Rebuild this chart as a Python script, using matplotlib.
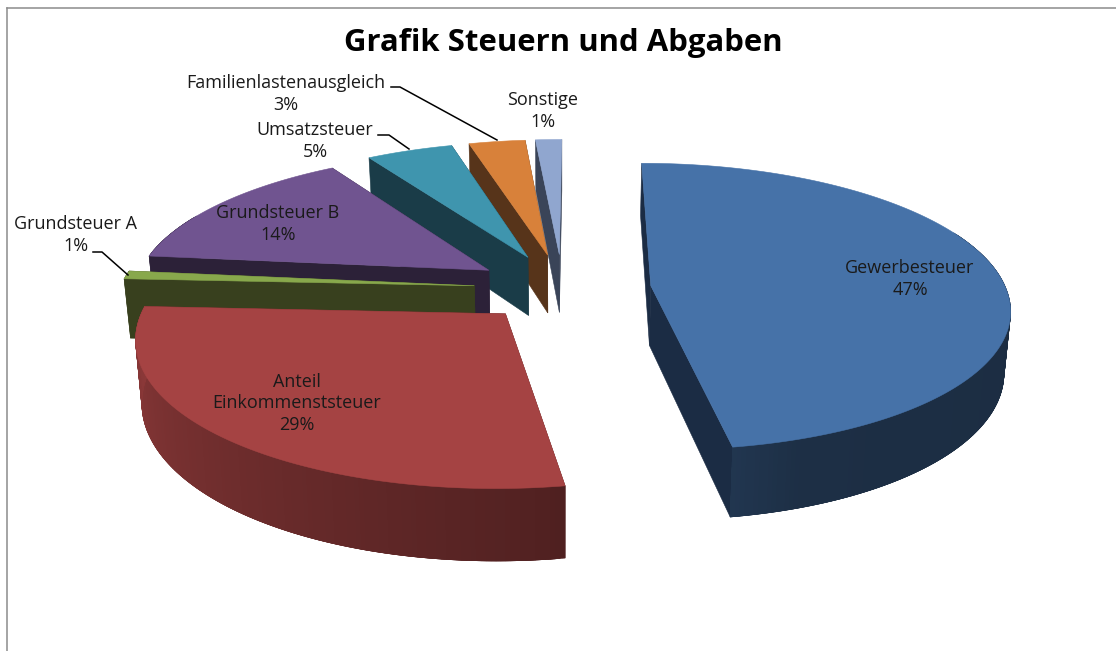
import numpy as np
import matplotlib
matplotlib.use("Agg")
import matplotlib.pyplot as plt
from matplotlib.colors import to_rgb

# --- data ---
categories = ["Gewerbesteuer", "Anteil\nEinkommenststeuer", "Grundsteuer A", "Grundsteuer B",
              "Umsatzsteuer", "Familienlastenausgleich", "Sonstige"]
shares = [47.4, 28.4, 0.9, 14.3, 4.6, 3.0, 1.4]
pct_labels = ["47%", "29%", "1%", "14%", "5%", "3%", "1%"]
top_colors = ["#4672A8", "#A54343", "#88A84C", "#705490", "#3F95AE", "#D8813A", "#90A6CF"]
wall_colors = ["#1B2C44", "#552220", "#38401E", "#2C2138", "#1A3C48", "#57341A", "#3A4458"]
explode = [0.25, 0.235, 0.25, 0.25, 0.25, 0.25, 0.25]
label_xy = [(910, 279), (297, 403.5), (76, 235), (278, 224), (315, 141), (286, 94), (543, 111)]

# --- projection constants (3-D pie seen in perspective) ---
CX, CY = 562.5, 288.5
A, B = 355, 141
K = 0.146
SKEW = 2.5
DEPTH = 60
BOTTOM_SHRINK = 1.015


def project(X, Y, bottom=False):
    X, Y = np.asarray(X, float), np.asarray(Y, float)
    w = 1 + K * Y
    sx = (A * X + SKEW * np.maximum(Y, 0)) / w
    if bottom:
        return CX + sx / BOTTOM_SHRINK, CY - B * Y / w + DEPTH / w
    return CX + sx, CY - B * Y / w


fig = plt.figure(figsize=(11.16, 6.51), dpi=100, facecolor="white")
ax = fig.add_axes([0, 0, 1, 1])
ax.set_xlim(0, 1116)
ax.set_ylim(651, 0)
ax.axis("off")

ax.plot([6.5, 6.5], [7.5, 651], color="#8c8c8c", lw=1.1)
ax.plot([6.5, 1116], [7.5, 7.5], color="#8c8c8c", lw=1.1)

edges = np.radians(np.concatenate([[0], np.cumsum(shares)]) / sum(shares) * 360)


def fill(x, y, color):
    ax.fill(x, y, facecolor=color, edgecolor=color, lw=0.4)


def rim_color(i, theta_deg):
    if theta_deg > 273:
        return wall_colors[i]
    f = np.interp(theta_deg, [90, 160, 175, 275], [0.39, 0.41, 0.5, 0.87])
    return tuple(np.array(to_rgb(top_colors[i])) * f)


for i in range(len(shares) - 1, -1, -1):
    t0, t1 = edges[i], edges[i + 1]
    mid = (t0 + t1) / 2
    X0, Y0 = explode[i] * np.sin(mid), explode[i] * np.cos(mid)
    th = np.linspace(t0, t1, max(int(np.degrees(t1 - t0) * 1.5), 3))
    X, Y = X0 + np.sin(th), Y0 + np.cos(th)
    xt, yt = project(X, Y)
    xb, yb = project(X, Y, bottom=True)
    ax0, ay0 = project(X0, Y0)
    bx0, by0 = project(X0, Y0, bottom=True)

    # radial walls
    for j in (-1, 0):
        fill([ax0, xt[j], xb[j], bx0], [ay0, yt[j], yb[j], by0], wall_colors[i])
    # outer rim, shaded with the angle; each band overlaps the next so no seams show
    for j in range(len(th) - 1):
        deg = np.degrees((th[j] + th[j + 1]) / 2)
        if np.cos(th[j]) > 0.4:
            continue
        c = rim_color(i, deg) if deg > 100 else wall_colors[i]
        k = min(j + 3, len(th) - 1)
        fill(np.r_[xt[j:k + 1], xb[j:k + 1][::-1]], np.r_[yt[j:k + 1], yb[j:k + 1][::-1]], c)
    # top face
    fill(np.r_[ax0, xt], np.r_[ay0, yt], top_colors[i])

FONT = "Open Sans"
ax.text(563, 43.5, "Grafik Steuern und Abgaben", ha="center", va="center", fontsize=22.4,
        fontweight="bold", family=FONT, color="black")

for name, pct, (lx, ly) in zip(categories, pct_labels, label_xy):
    ax.text(lx, ly, f"{name}\n{pct}", ha="center", va="center", fontsize=13,
            family=FONT, color="#1a1a1a", linespacing=1.22)

# leader lines
for xs, ys in [([391, 400, 497], [87, 87, 140]),
               ([378, 389, 409], [135, 135, 149]),
               ([93, 102, 128], [252, 252, 275])]:
    ax.plot(xs, ys, color="black", lw=1.1)

fig.savefig("out.png", dpi=100)
